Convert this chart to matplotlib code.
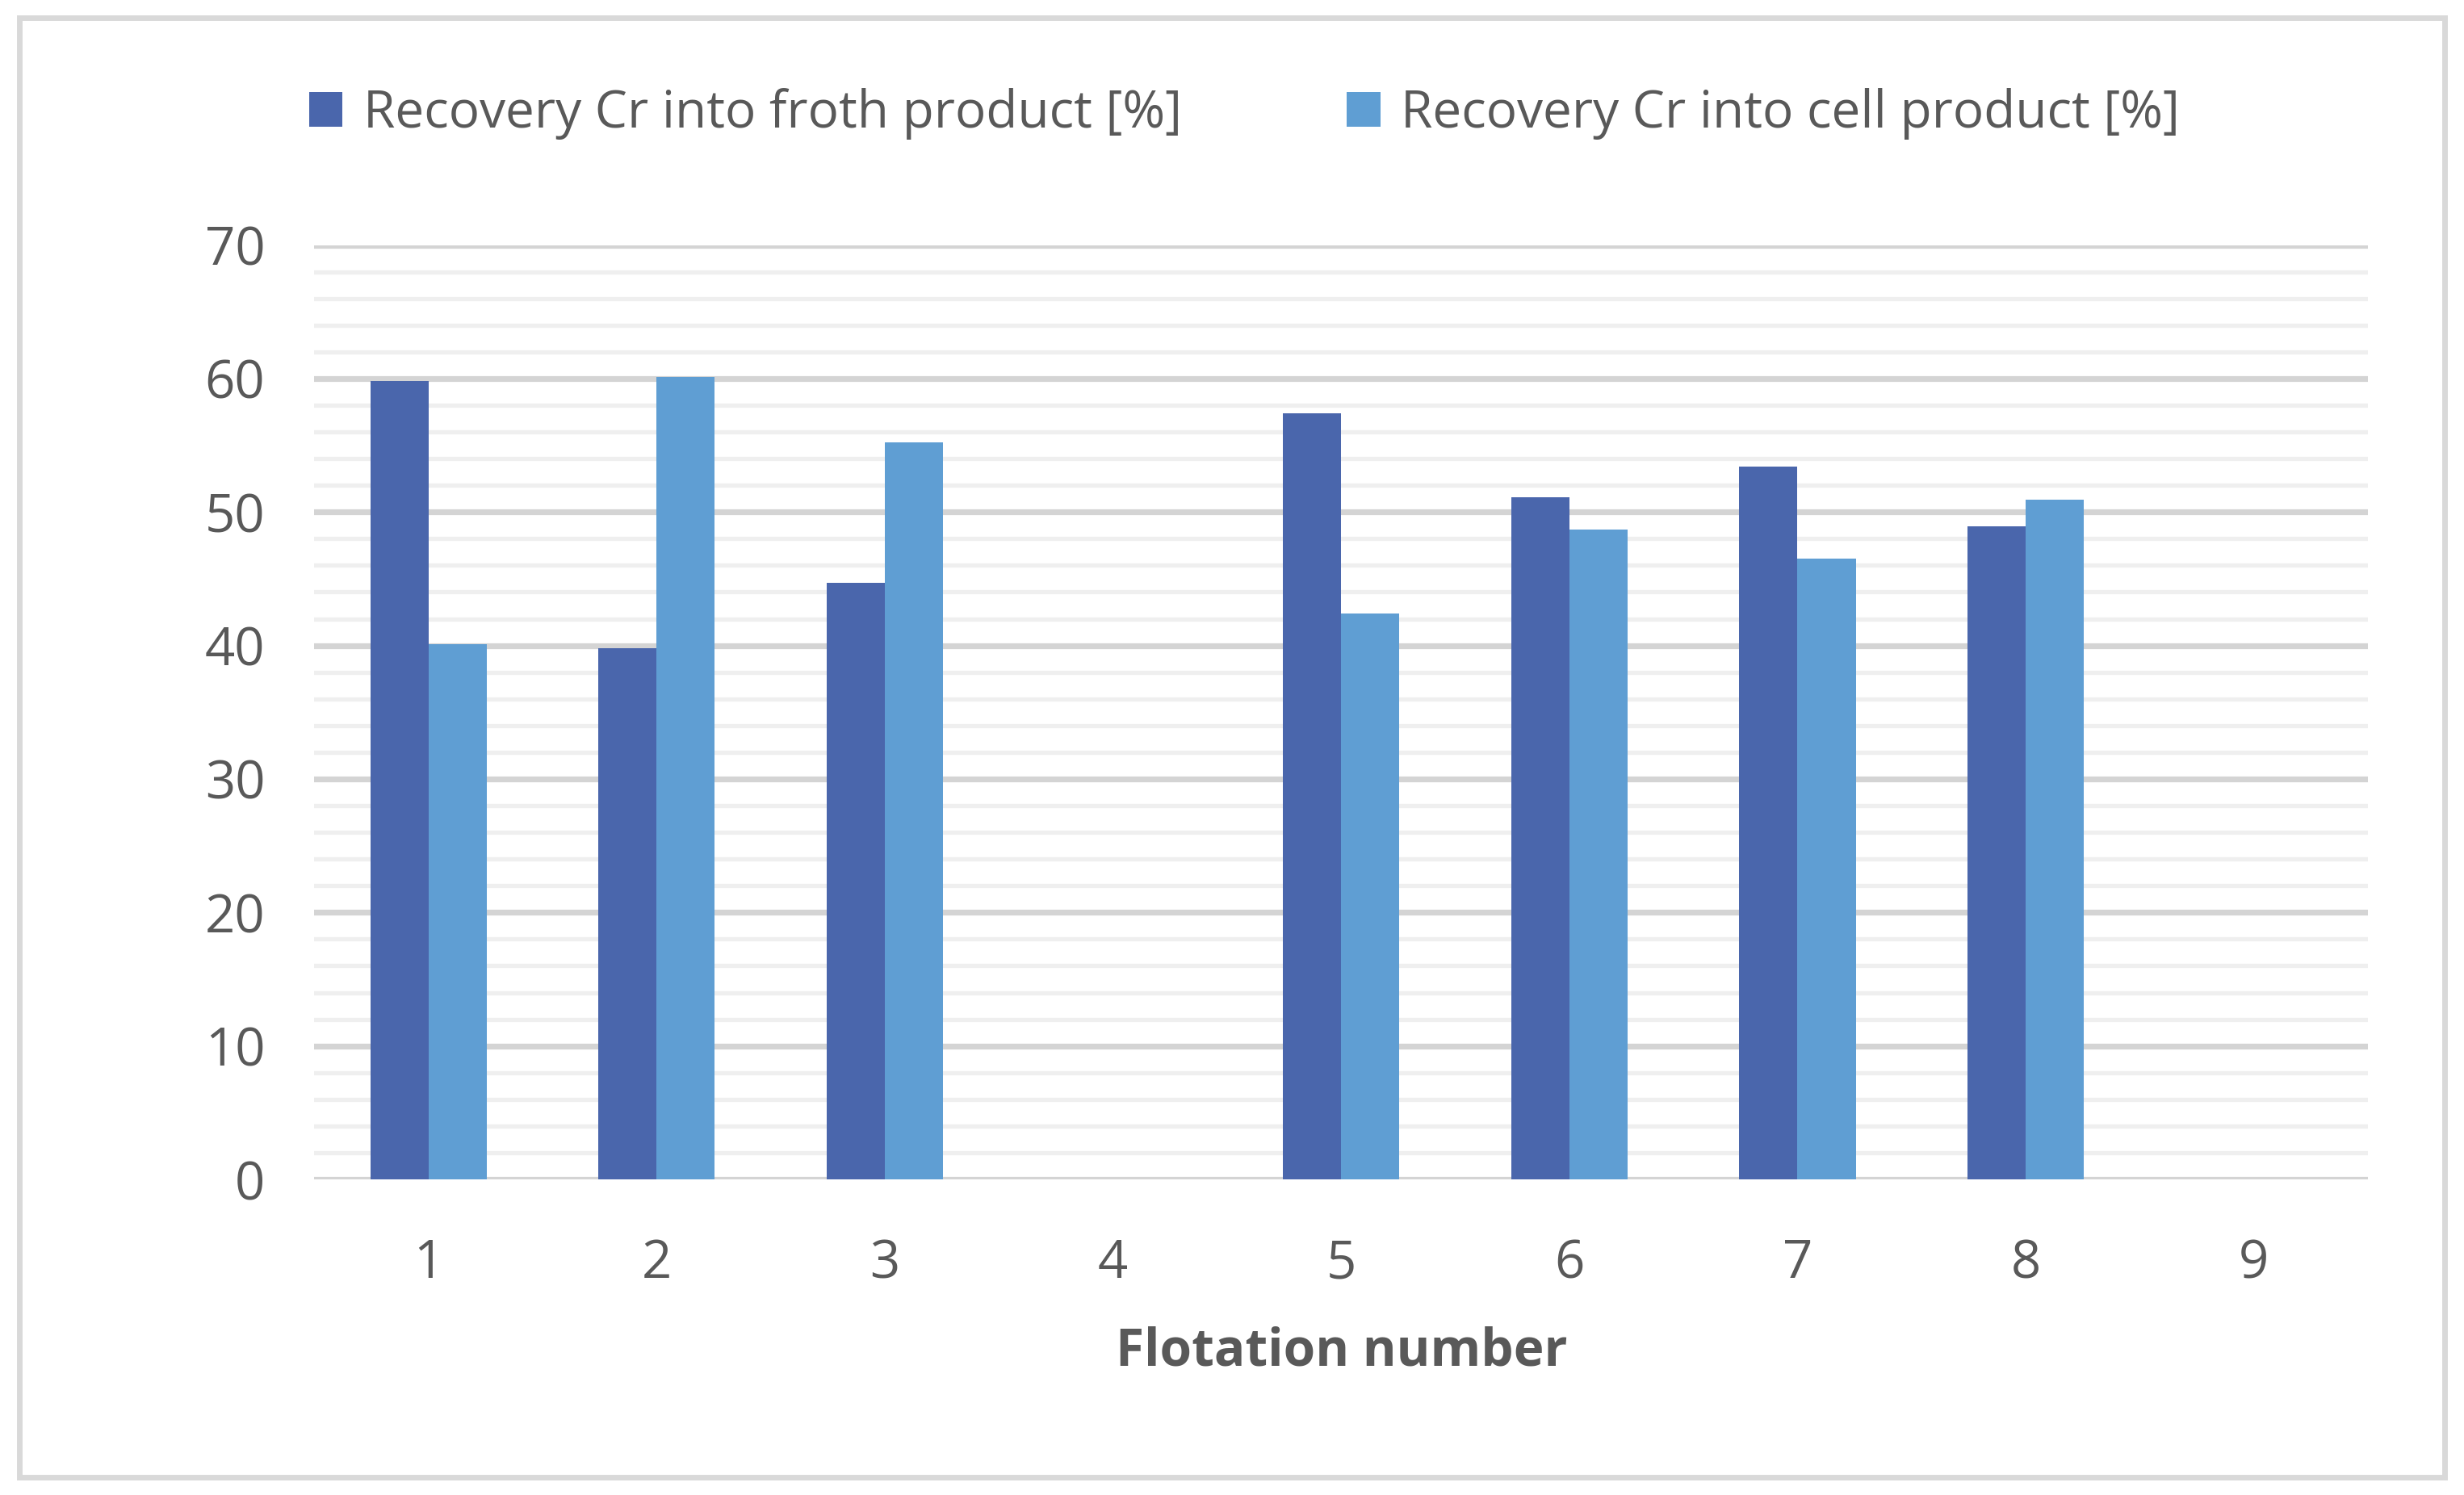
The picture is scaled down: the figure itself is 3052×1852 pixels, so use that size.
import matplotlib.pyplot as plt
import numpy as np
from matplotlib.patches import Rectangle

plt.rcParams["font.family"] = ["Open Sans", "DejaVu Sans"]

flotations = [1, 2, 3, 4, 5, 6, 7, 8, 9]
froth = [59.8, 39.8, 44.7, 0, 57.4, 51.1, 53.4, 48.9, 0]
cell = [40.1, 60.1, 55.2, 0, 42.4, 48.7, 46.5, 50.9, 0]
labels = ["Recovery Cr into froth product [%]", "Recovery Cr into cell product [%]"]

fig = plt.figure(figsize=(15.26, 9.26), dpi=200)
ax = fig.add_axes([0.1276, 0.2111, 0.961 - 0.1276, 0.8361 - 0.2111])

x = np.array(flotations)
w = 0.255
ax.bar(x - w / 2, froth, width=w, color="#4A66AC", label=labels[0], zorder=3)
ax.bar(x + w / 2, cell, width=w, color="#5F9ED3", label=labels[1], zorder=3)

ax.set_xlim(0.5, 9.5)
ax.set_ylim(0, 70)
ax.set_yticks(range(0, 71, 10))
ax.set_yticks(range(0, 71, 2), minor=True)
ax.set_xticks(x)
ax.grid(axis="y", which="major", color="#D4D4D4", linewidth=2.6, zorder=1)
ax.grid(axis="y", which="minor", color="#EFEFEF", linewidth=1.9, zorder=0)
ax.tick_params(which="both", length=0)
ax.tick_params(axis="y", pad=22, labelsize=23.5, labelcolor="#595959")
ax.tick_params(axis="x", pad=26, labelsize=23.5, labelcolor="#595959")
for s in ax.spines.values():
    s.set_visible(False)

fig.text(0.5445, 0.0956, "Flotation number", ha="center", va="center",
         fontsize=23, fontweight="bold", color="#595959")

fig.legend(loc="center", bbox_to_anchor=(0.505, 0.924), ncols=2, frameon=False,
           fontsize=23, labelcolor="#595959", handlelength=0.65, handleheight=0.65,
           handletextpad=0.4, columnspacing=3.2)

fig.patches.append(Rectangle((0.008, 0.012), 0.984, 0.976, transform=fig.transFigure,
                             fill=False, edgecolor="#D9D9D9", linewidth=2.5))

fig.savefig("out.png")
